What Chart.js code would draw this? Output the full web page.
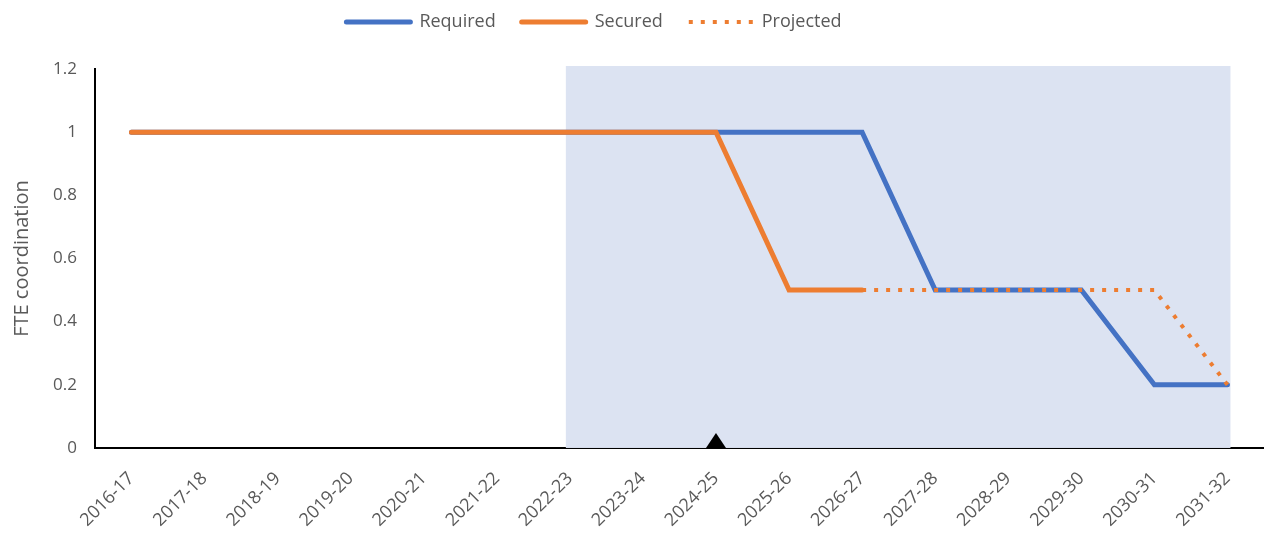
<!DOCTYPE html>
<html lang="en">
<head>
    <meta charset="UTF-8">
    <title>FTE coordination</title>
    <script src="https://cdn.jsdelivr.net/npm/chart.js"></script>
    <style>
        * { margin: 0; padding: 0; box-sizing: border-box; }
        body { background: #fff; }
        .chart-box { width: 1264px; height: 540px; }
    </style>
</head>
<body>
    <div class="chart-box"><canvas id="fteChart"></canvas></div>

    <script>
        const years = ['2016-17', '2017-18', '2018-19', '2019-20', '2020-21', '2021-22', '2022-23', '2023-24',
            '2024-25', '2025-26', '2026-27', '2027-28', '2028-29', '2029-30', '2030-31', '2031-32'];
        const required = [1, 1, 1, 1, 1, 1, 1, 1, 1, 1, 1, 0.5, 0.5, 0.5, 0.2, 0.2];
        const secured = [1, 1, 1, 1, 1, 1, 1, 1, 1, 0.5, 0.5, null, null, null, null, null];
        const projected = [null, null, null, null, null, null, null, null, null, null, 0.5, 0.5, 0.5, 0.5, 0.5, 0.2];
        const yTicks = [0, 0.2, 0.4, 0.6, 0.8, 1, 1.2];
        const shadedFrom = '2022-23';
        const shadedTo = '2031-32';
        const markerYear = '2024-25';

        const textColor = '#595959';
        const fontFamily = "'Open Sans', 'Noto Sans', sans-serif";

        // legend: a bit more room below, sits higher and slightly left of centre
        const legendTweak = {
            id: 'legendTweak',
            beforeInit(chart) {
                const fit = chart.legend.fit;
                chart.legend.fit = function () {
                    fit.bind(this)();
                    this.height += 13;
                };
            },
            afterLayout(chart) {
                chart.legend.top -= 15;
                chart.legend.right -= 78;
            }
        };

        // shaded period behind the lines + black triangle on the axis
        const periodPlugin = {
            id: 'period',
            beforeDatasetsDraw(chart) {
                const { ctx, chartArea, scales } = chart;
                const x0 = scales.x.getPixelForValue(years.indexOf(shadedFrom)) - 4;
                const x1 = scales.x.getPixelForValue(years.indexOf(shadedTo)) + 3;
                ctx.save();
                ctx.fillStyle = '#dce3f2';
                ctx.fillRect(x0, chartArea.top - 3, x1 - x0, chartArea.bottom - chartArea.top + 3);
                ctx.restore();
            },
            afterDatasetsDraw(chart) {
                const { ctx, chartArea, scales } = chart;
                const x = scales.x.getPixelForValue(years.indexOf(markerYear));
                const y = chartArea.bottom;
                ctx.save();
                ctx.fillStyle = '#000';
                ctx.beginPath();
                ctx.moveTo(x - 10, y);
                ctx.lineTo(x + 10, y);
                ctx.lineTo(x, y - 15);
                ctx.closePath();
                ctx.fill();
                ctx.restore();
            }
        };

        const ctx = document.getElementById('fteChart').getContext('2d');
        const fteChart = new Chart(ctx, {
            type: 'line',
            data: {
                labels: years,
                datasets: [{
                    label: 'Required',
                    data: required,
                    borderColor: '#4472c4',
                    backgroundColor: '#4472c4',
                    borderWidth: 5,
                    borderCapStyle: 'round',
                    pointRadius: 0,
                    tension: 0,
                    order: 3
                }, {
                    label: 'Secured',
                    data: secured,
                    borderColor: '#ed7d31',
                    backgroundColor: '#ed7d31',
                    borderWidth: 5,
                    borderCapStyle: 'round',
                    pointRadius: 0,
                    tension: 0,
                    order: 2
                }, {
                    label: 'Projected',
                    data: projected,
                    borderColor: '#ed7d31',
                    backgroundColor: '#ed7d31',
                    borderWidth: 4,
                    borderDash: [4, 8],
                    pointRadius: 0,
                    tension: 0,
                    order: 1
                }]
            },
            options: {
                responsive: true,
                maintainAspectRatio: false,
                animation: false,
                layout: { padding: { top: 2, left: 2, right: 0, bottom: -3 } },
                plugins: {
                    legend: {
                        position: 'top',
                        labels: {
                            usePointStyle: true,
                            pointStyle: 'line',
                            pointStyleWidth: 64,
                            boxHeight: 5,
                            color: textColor,
                            padding: 26,
                            font: { family: fontFamily, size: 18 },
                            sort: (a, b) => a.datasetIndex - b.datasetIndex,
                            generateLabels(chart) {
                                const items = Chart.defaults.plugins.legend.labels.generateLabels(chart);
                                items.forEach(item => {
                                    const ds = chart.data.datasets[item.datasetIndex];
                                    item.lineDash = ds.borderDash || [];
                                    item.lineWidth = ds.borderWidth;
                                    item.lineCap = ds.borderCapStyle || 'butt';
                                });
                                return items;
                            }
                        }
                    },
                    tooltip: { enabled: false }
                },
                scales: {
                    x: {
                        offset: true,
                        grid: { display: false },
                        border: { display: true, color: '#000', width: 2 },
                        ticks: {
                            color: textColor,
                            maxRotation: 45,
                            minRotation: 45,
                            autoSkip: false,
                            padding: 12,
                            font: { family: fontFamily, size: 18 }
                        }
                    },
                    y: {
                        min: 0,
                        max: 1.2,
                        afterBuildTicks: scale => { scale.ticks = yTicks.map(v => ({ value: v })); },
                        grid: { display: false },
                        border: { display: true, color: '#000', width: 2 },
                        title: {
                            display: true,
                            text: 'FTE coordination',
                            color: textColor,
                            padding: { top: 8, bottom: 9 },
                            font: { family: fontFamily, size: 20 }
                        },
                        ticks: {
                            color: textColor,
                            padding: 10,
                            font: { family: fontFamily, size: 17 },
                            callback: v => String(Math.round(v * 10) / 10)
                        }
                    }
                }
            },
            plugins: [periodPlugin, legendTweak]
        });
    </script>
</body>
</html>
